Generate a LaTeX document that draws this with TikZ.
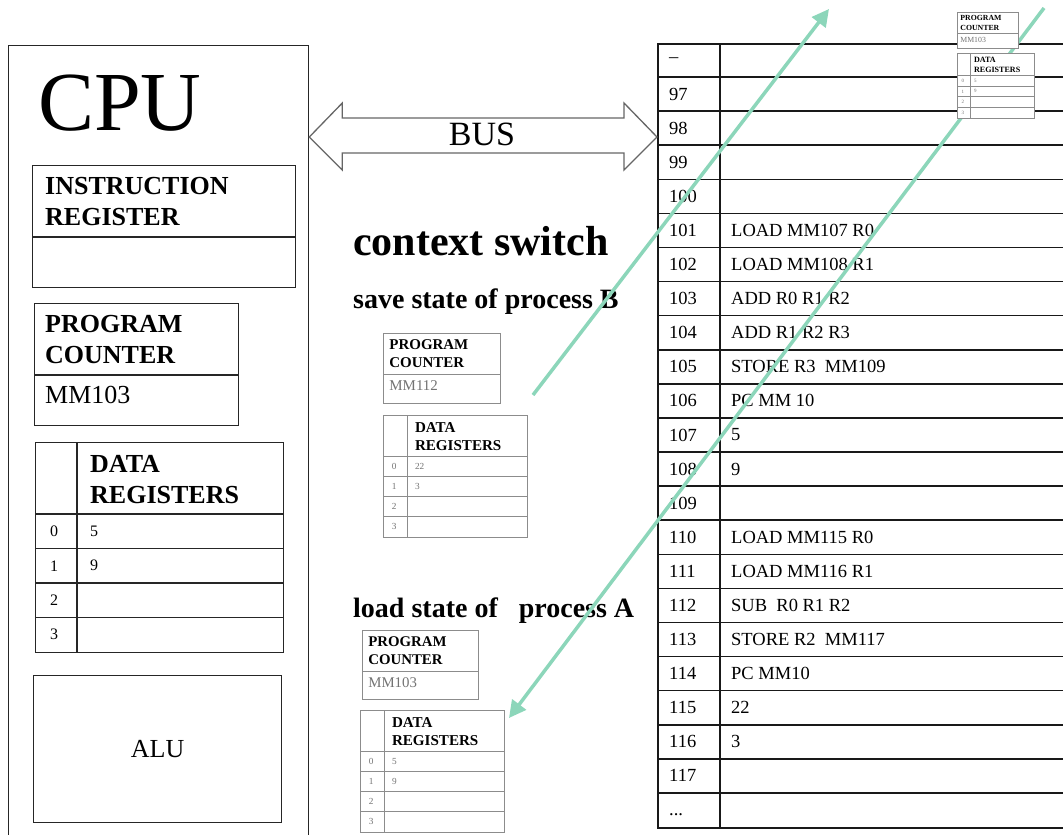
\documentclass[tikz,border=0pt]{standalone}
\usepackage{fontspec}
\setmainfont{Liberation Serif}
\usetikzlibrary{arrows.meta,calc}
\definecolor{mint}{RGB}{140,214,186}
\newcommand\setfs[2]{\fontsize{#1}{#2}\selectfont}

\tikzset{
  regframe/.style={draw=black!85, line width=1.3pt, fill=white, inner sep=0pt, anchor=north west},
  regline/.style={draw=black!85, line width=1.3pt},
  regval/.style={text=black},
  head/.style={anchor=north west, inner sep=0pt, align=left, font=\bfseries\setfs{26}{31}},
  idx/.style={anchor=west, inner sep=0pt, font=\setfs{16}{16}, regval},
  pcval/.style={anchor=base west, inner sep=0pt, font=\setfs{26}{26}, regval},
  fullsize/.style={},
  copysize/.style={
    regframe/.append style={draw=black!45, line width=0.7pt},
    regline/.append style={draw=black!45, line width=0.7pt},
    regval/.append style={text=black!55}},
  memframe/.style={draw=black!90, line width=1.6pt, inner sep=0pt, anchor=north west},
  memline/.style={draw=black!90, line width=1.6pt},
  memtext/.style={anchor=west, inner sep=0pt, font=\setfs{18.5}{18.5}},
  busarrow/.style={draw=black!60, line width=1.3pt, fill=white, line join=miter},
  greenarrow/.style={draw=mint, line width=3.5pt, -{Triangle[length=17pt, width=17pt]}, fill=mint},
}

% program counter block, laid out at full size and scaled by #4
\newcommand\pcblock[6]{%
  \begin{scope}[shift={(#2,#3)}, scale=#4, transform shape, #6]
    \node[regframe, minimum width=204, minimum height=122] (#1) at (0,0) {};
    \draw[regline] (0,72) -- (204,72);
    \node[head] (#1-head) at (11,12) {PROGRAM\\COUNTER};
    \node[pcval] (#1-val) at (11,100) {#5};
  \end{scope}}

% data register table with rows 0..3, laid out at full size and scaled by #4
\newcommand\regblock[6]{%
  \begin{scope}[shift={(#2,#3)}, scale=#4, transform shape, #6]
    \node[regframe, minimum width=248, minimum height=210] (#1) at (0,0) {};
    \draw[regline] (42,0) -- (42,210);
    \foreach \r in {0,1,2,3} {
      \draw[regline] (0,{72+\r*34.5}) -- (248,{72+\r*34.5});
      \node[idx] (#1-i\r) at (15,{72+(\r+0.5)*34.5}) {\r};
    }
    \node[head] (#1-head) at (55,13) {DATA\\REGISTERS};
    \foreach \v [count=\k from 0] in {#5}
      \node[idx] (#1-v\k) at (55,{72+(\k+0.5)*34.5}) {\v};
  \end{scope}}

\begin{document}
\begin{tikzpicture}[x=1pt,y=-1pt]
\useasboundingbox (0,0) rectangle (1063,835);

% ---------- CPU ----------
\node[regframe, minimum width=300, minimum height=800] (cpu) at (8,45) {};
\node[anchor=base west, inner sep=0pt, font=\setfs{84}{84}] (cputitle) at (38,130) {CPU};

\node[regframe, minimum width=263, minimum height=122] (ir) at (32,165) {};
\draw[regline] (32,237) -- (295,237);
\node[head] (ir-head) at (45,177) {INSTRUCTION\\REGISTER};

\pcblock{pc}{34}{303}{1}{MM103}{fullsize}
\regblock{dr}{35}{442}{1}{5,9}{fullsize}

\node[regframe, minimum width=248, minimum height=147, font=\setfs{26}{26}] (alu) at (33,675) {ALU};

% ---------- memory ----------
\node[memframe, minimum width=420, minimum height=784] (mem) at (657,43) {};
\draw[memline] (720,43) -- (720,827);
\foreach \i in {1,...,22}
  \draw[memline] (657,{43+\i*34.087}) -- (1075,{43+\i*34.087});
\node[memtext] (addr0) at (669,{43+0.5*34.087}) {--};
\foreach \a [count=\i from 1] in {97,...,117}
  \node[memtext] (addr\i) at (669,{43+(\i+0.5)*34.087}) {\a};
\node[memtext, anchor=base west] (addr22) at (669,{43+22.5*34.087+6}) {...};
\foreach \r/\c in {5/LOAD MM107 R0, 6/LOAD MM108 R1, 7/ADD R0 R1 R2, 8/ADD R1 R2 R3,
                   9/STORE R3\ \ MM109, 10/PC MM 10, 11/5, 12/9,
                   14/LOAD MM115 R0, 15/LOAD MM116 R1, 16/SUB\ \ R0 R1 R2,
                   17/STORE R2\ \ MM117, 18/PC MM10, 19/22, 20/3}
  \node[memtext] (cell\r) at (731,{43+(\r+0.5)*34.087}) {\c};

% ---------- bus ----------
\coordinate (busy) at (0,137);
\coordinate (busL) at (cpu.north east |- busy);
\coordinate (busR) at (mem.north west |- busy);
\draw[busarrow] (busL) -- ($(busL)+(33,-34)$) -- ($(busL)+(33,-19)$)
  -- ($(busR)+(-33,-19)$) -- ($(busR)+(-33,-34)$) -- (busR)
  -- ($(busR)+(-33,33)$) -- ($(busR)+(-33,16)$) -- ($(busL)+(33,16)$)
  -- ($(busL)+(33,33)$) -- cycle;
\node[inner sep=0pt, font=\setfs{34}{34}] (bus) at (482,134) {BUS};

% ---------- context switch ----------
\node[anchor=base west, inner sep=0pt, font=\bfseries\setfs{42}{42}] (cs) at (353,255) {context switch};
\node[anchor=base west, inner sep=0pt, font=\bfseries\setfs{28}{28}] (savetxt) at (353,308) {save state of process B};
\pcblock{savepc}{383}{333}{0.575}{MM112}{copysize}
\regblock{savedr}{383}{415}{0.58}{22,3}{copysize}

\node[anchor=base west, inner sep=0pt, font=\bfseries\setfs{28}{28}] (loadtxt) at (353,617) {load state of\ \ \ process A};
\pcblock{loadpc}{362}{630}{0.57}{MM103}{copysize}
\regblock{loaddr}{360}{710}{0.58}{5,9}{copysize}

% ---------- state transfers ----------
\coordinate (s1) at (533,395);
\coordinate (t1) at (829,9);
\draw[greenarrow] (s1) -- (t1);
\coordinate (s2) at (1044,8);
\coordinate (t2) at (509,718);
\draw[greenarrow] (s2) -- (t2);

% stored state of process A in memory
\pcblock{storedpc}{957}{12}{0.3}{MM103}{copysize}
\regblock{storeddr}{957}{53}{0.31}{5,9}{copysize}
\end{tikzpicture}
\end{document}
